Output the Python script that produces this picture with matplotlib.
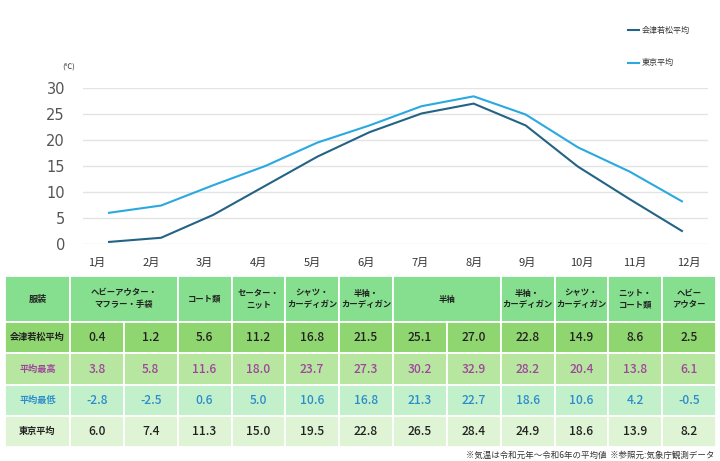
import matplotlib.pyplot as plt
from matplotlib.patches import Rectangle

plt.rcParams['font.family'] = ['Noto Sans CJK JP', 'DejaVu Sans']

# data
months = ['1月', '2月', '3月', '4月', '5月', '6月', '7月', '8月', '9月', '10月', '11月', '12月']
aizu_avg = [0.4, 1.2, 5.6, 11.2, 16.8, 21.5, 25.1, 27.0, 22.8, 14.9, 8.6, 2.5]
aizu_max = [3.8, 5.8, 11.6, 18.0, 23.7, 27.3, 30.2, 32.9, 28.2, 20.4, 13.8, 6.1]
aizu_min = [-2.8, -2.5, 0.6, 5.0, 10.6, 16.8, 21.3, 22.7, 18.6, 10.6, 4.2, -0.5]
tokyo_avg = [6.0, 7.4, 11.3, 15.0, 19.5, 22.8, 26.5, 28.4, 24.9, 18.6, 13.9, 8.2]
# clothing header: (first month index, span, label)
clothes = [(0, 2, 'ヘビーアウター・\nマフラー・手袋'), (2, 1, 'コート類'), (3, 1, 'セーター・\nニット'),
           (4, 1, 'シャツ・\nカーディガン'), (5, 1, '半袖・\nカーディガン'), (6, 2, '半袖'),
           (8, 1, '半袖・\nカーディガン'), (9, 1, 'シャツ・\nカーディガン'), (10, 1, 'ニット・\nコート類'),
           (11, 1, 'ヘビー\nアウター')]

W, H = 720, 461
fig = plt.figure(figsize=(W / 100, H / 100), dpi=100)

# ---- table, drawn in pixel coordinates on a full-figure axes
tab = fig.add_axes([0, 0, 1, 1])
tab.set_xlim(0, W)
tab.set_ylim(H, 0)
tab.axis('off')

x0, x1, cw = 5, 70, (716 - 70) / 12
rows_y = [276, 322, 353, 385, 416, 447]
head_c, aizu_c, max_c, min_c, tok_c = '#86df8e', '#8fd671', '#b6e6a0', '#c2f0cb', '#def4d4'
sep = dict(edgecolor='white', linewidth=1.3)

def cell(xa, xb, ya, yb, color):
    tab.add_patch(Rectangle((xa, ya), xb - xa, yb - ya, facecolor=color, **sep))

# header row
cell(x0, x1, rows_y[0], rows_y[1], head_c)
tab.text((x0 + x1) / 2, (rows_y[0] + rows_y[1]) / 2, '服装', ha='center', va='center',
         fontsize=6.6, fontweight='bold', color='#222222')
for start, span, label in clothes:
    xa = x1 + start * cw
    xb = xa + span * cw
    cell(xa, xb, rows_y[0], rows_y[1], head_c)
    tab.text((xa + xb) / 2, (rows_y[0] + rows_y[1]) / 2, label, ha='center', va='center',
             fontsize=6.0, fontweight='bold', color='#222222', linespacing=1.4)

data_rows = [('会津若松平均', aizu_avg, aizu_c, '#222222'),
             ('平均最高', aizu_max, max_c, '#a0449c'),
             ('平均最低', aizu_min, min_c, '#2b8bcc'),
             ('東京平均', tokyo_avg, tok_c, '#222222')]
for r, (name, vals, bg, tc) in enumerate(data_rows):
    ya, yb = rows_y[r + 1], rows_y[r + 2]
    cell(x0, x1, ya, yb, bg)
    tab.text((x0 + x1) / 2, (ya + yb) / 2, name, ha='center', va='center',
             fontsize=6.6, fontweight='bold', color=tc)
    for i, v in enumerate(vals):
        xa = x1 + i * cw
        cell(xa, xa + cw, ya, yb, bg)
        tab.text(xa + cw / 2, (ya + yb) / 2, f'{v:.1f}', ha='center', va='center',
                 fontsize=8.7, fontweight='medium', color=tc)

tab.text(714, 455, '※気温は令和元年～令和6年の平均値  ※参照元:気象庁観測データ',
         ha='right', va='center', fontsize=6.1, color='#333333')

# month labels, aligned with table columns
for i, m in enumerate(months):
    tab.text(x1 + (i + 0.5) * cw, 263, m, ha='center', va='center', fontsize=8, color='#333333')
tab.text(69, 68, '(℃)', ha='center', va='center', fontsize=5.5, color='#333333')

# ---- line chart
ax = fig.add_axes([83 / W, 1 - 244 / H, 625 / W, (244 - 88) / H])
ax.patch.set_alpha(0)
x = list(range(len(months)))
ax.plot(x, aizu_avg, color='#236386', linewidth=1.5, label='会津若松平均')
ax.plot(x, tokyo_avg, color='#2aa9e0', linewidth=1.5, label='東京平均')
ax.set_xlim(-0.5, len(months) - 0.5)
ax.set_ylim(0, 30)
ax.set_yticks([0, 5, 10, 15, 20, 25, 30])
ax.set_xticks([])
ax.grid(axis='y', color='#e4e4e4', linewidth=1)
ax.set_axisbelow(True)
for s in ax.spines.values():
    s.set_visible(False)
ax.tick_params(axis='y', length=0, pad=13, labelsize=10.5, labelcolor='#555555')
for lab in ax.get_yticklabels():
    lab.set_fontfamily('DejaVu Sans')

leg = ax.legend(loc='upper left', bbox_to_anchor=(628 / W, 1 - 26 / H), bbox_transform=fig.transFigure,
                frameon=False, fontsize=5.8, handlelength=1.4, handletextpad=0.3, labelspacing=2.9,
                borderaxespad=0, borderpad=0)
for t in leg.get_texts():
    t.set_color('#333333')

fig.savefig('out.png', dpi=100)
